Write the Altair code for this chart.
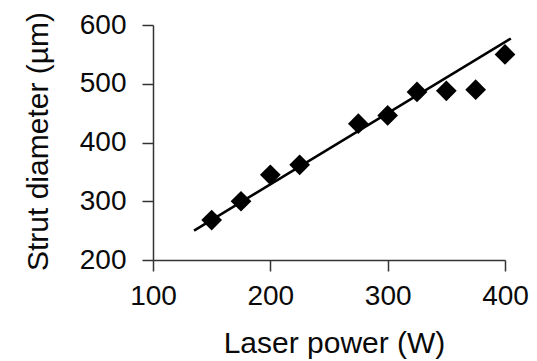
import altair as alt
import pandas as pd

power = [150, 175, 200, 225, 275, 300, 325, 350, 375, 400]
diameter = [268, 300, 345, 362, 432, 446, 486, 488, 490, 550]

fit_x = [135, 405]
fit_y = [250, 577]

pts = pd.DataFrame({"x": power, "y": diameter})
fit = pd.DataFrame({"x": fit_x, "y": fit_y})

FONT = "Liberation Sans"

xscale = alt.Scale(domain=[100, 400], nice=False, zero=False)
yscale = alt.Scale(domain=[200, 600], nice=False, zero=False)

xaxis = alt.Axis(
    title="Laser power (W)", values=[100, 200, 300, 400], grid=False,
    domainColor="#333333", domainWidth=1.5, tickColor="#333333", tickWidth=1.5,
    tickSize=11, labelFontSize=28, labelFont=FONT, labelColor="#0a0a0a",
    labelPadding=11, titleFontSize=30, titleFont=FONT, titleFontWeight="normal",
    titleColor="#0a0a0a", titleX=181, titleY=92, titleBaseline="alphabetic",
    labelFlush=False, labelOverlap=False,
)
yaxis = alt.Axis(
    title="Strut diameter (µm)", values=[200, 300, 400, 500, 600], grid=False,
    domainColor="#333333", domainWidth=1.5, tickColor="#333333", tickWidth=1.5,
    tickSize=11, labelFontSize=28, labelFont=FONT, labelColor="#0a0a0a",
    labelPadding=16, titleFontSize=30, titleFont=FONT, titleFontWeight="normal",
    titleColor="#0a0a0a", titleX=-106, titleY=116, titleBaseline="alphabetic",
    labelFlush=False, labelOverlap=False,
)

line = alt.Chart(fit).mark_line(color="black", strokeWidth=2.6).encode(
    x=alt.X("x:Q", scale=xscale, axis=xaxis),
    y=alt.Y("y:Q", scale=yscale, axis=yaxis),
)
points = alt.Chart(pts).mark_point(
    shape="diamond", filled=True, color="black", size=430, opacity=1
).encode(
    x=alt.X("x:Q", scale=xscale),
    y=alt.Y("y:Q", scale=yscale),
)

chart = alt.layer(line, points).properties(
    width=352, height=235,
    autosize=alt.AutoSizeParams(type="none"),
    padding={"left": 153, "top": 25, "right": 32, "bottom": 101},
    background="white",
).configure_view(stroke=None)

chart.save("out.html", embed_options={"renderer": "svg", "actions": False})
